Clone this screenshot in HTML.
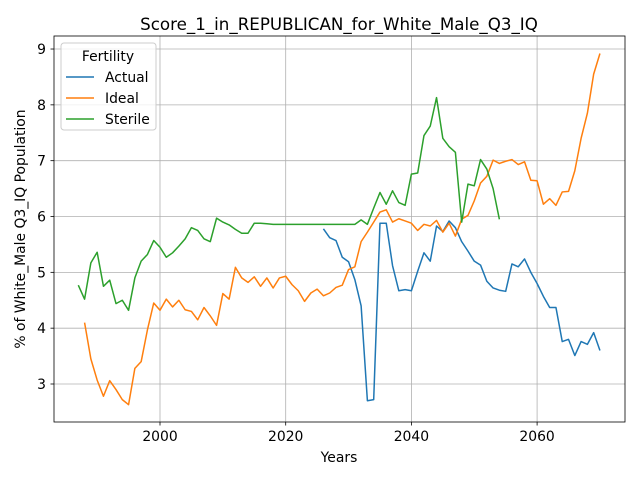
<!DOCTYPE html>
<html><head><meta charset="utf-8"><style>
body{margin:0;background:#fff;}
svg{display:block;font-family:"DejaVu Sans","Liberation Sans",sans-serif;}
</style></head><body>
<svg id="chart" width="640" height="480" viewBox="0 0 640 480">
<rect x="0" y="0" width="640" height="480" fill="#fff"/>
<text x="339" y="30" font-size="16.7" text-anchor="middle">Score_1_in_REPUBLICAN_for_White_Male_Q3_IQ</text>
<g id="grid"></g>
<g id="series"></g>
<rect x="54" y="36" width="571" height="386" fill="none" stroke="#000" stroke-width="0.8"/>
<g id="ticks"></g>
<text x="339" y="462" font-size="13.9" text-anchor="middle">Years</text>
<text transform="translate(25,229) rotate(-90)" font-size="13.9" text-anchor="middle">% of White_Male Q3_IQ Population</text>
<g>
<rect x="61" y="43" width="95" height="87" rx="3" fill="#fff" fill-opacity="0.8" stroke="#ccc"/>
<text x="108" y="61" font-size="13.9" text-anchor="middle">Fertility</text>
<line x1="66" y1="77" x2="94" y2="77" stroke="#1f77b4" stroke-width="1.5"/>
<text x="105" y="82" font-size="13.9">Actual</text>
<line x1="66" y1="98" x2="94" y2="98" stroke="#ff7f0e" stroke-width="1.5"/>
<text x="105" y="103" font-size="13.9">Ideal</text>
<line x1="66" y1="119" x2="94" y2="119" stroke="#2ca02c" stroke-width="1.5"/>
<text x="105" y="124" font-size="13.9">Sterile</text>
</g>
</svg>
<script>
const xTicks=[2000,2020,2040,2060];
const yTicks=[3,4,5,6,7,8,9];
const actualStart=2026;
const actualValues=[5.78,5.62,5.57,5.27,5.19,4.87,4.4,2.7,2.72,5.88,5.88,5.12,4.67,4.69,4.67,5.02,5.35,5.2,5.83,5.73,5.92,5.8,5.55,5.38,5.2,5.13,4.84,4.72,4.68,4.66,5.15,5.1,5.24,5.0,4.8,4.57,4.37,4.37,3.76,3.8,3.51,3.76,3.71,3.92,3.6];
const idealStart=1988;
const idealValues=[4.1,3.45,3.07,2.78,3.06,2.9,2.72,2.63,3.28,3.4,3.97,4.45,4.32,4.52,4.38,4.5,4.33,4.3,4.15,4.37,4.22,4.05,4.62,4.52,5.09,4.9,4.82,4.92,4.75,4.9,4.72,4.9,4.93,4.78,4.67,4.48,4.63,4.7,4.58,4.63,4.73,4.77,5.05,5.1,5.55,5.72,5.9,6.08,6.12,5.9,5.96,5.92,5.88,5.75,5.86,5.83,5.93,5.72,5.88,5.65,5.95,6.02,6.28,6.6,6.72,7.01,6.95,6.99,7.02,6.93,6.98,6.65,6.64,6.22,6.32,6.2,6.44,6.45,6.82,7.4,7.85,8.55,8.92];
const sterileStart=1987;
const sterileValues=[4.77,4.52,5.17,5.36,4.75,4.86,4.44,4.5,4.32,4.9,5.2,5.32,5.57,5.45,5.27,5.35,5.47,5.6,5.8,5.75,5.6,5.55,5.97,5.9,5.85,5.77,5.7,5.7,5.88,5.88,5.87,5.86,5.86,5.86,5.86,5.86,5.86,5.86,5.86,5.86,5.86,5.86,5.86,5.86,5.86,5.94,5.86,6.15,6.43,6.22,6.46,6.25,6.2,6.76,6.78,7.45,7.62,8.13,7.4,7.25,7.15,5.9,6.58,6.55,7.02,6.85,6.5,5.95];
const NS="http://www.w3.org/2000/svg";
function xs(yr){return 160+(yr-2000)*6.285;}
function ys(v){return 384-(v-3)*55.83;}
const grid=document.getElementById('grid'),ticks=document.getElementById('ticks'),ser=document.getElementById('series');
function mk(tag,attrs,parent){const e=document.createElementNS(NS,tag);for(const k in attrs)e.setAttribute(k,attrs[k]);parent.appendChild(e);return e;}
xTicks.forEach(t=>{const x=xs(t);
 const g=mk('line',{x1:x,x2:x,y1:36,y2:422,stroke:'#b0b0b0','stroke-width':0.8},grid);
 
 
 const tk=mk('line',{x1:x,x2:x,y1:422,y2:425.5,stroke:'#000','stroke-width':0.8},ticks);
 
 
 const tx=mk('text',{x:x,y:441,'font-size':13.9,'text-anchor':'middle'},ticks);tx.textContent=t;
 
 
});
yTicks.forEach(t=>{const y=ys(t);
 const g=mk('line',{x1:54,x2:625,y1:y,y2:y,stroke:'#b0b0b0','stroke-width':0.8},grid);
 
 
 const tk=mk('line',{x1:50.5,x2:54,y1:y,y2:y,stroke:'#000','stroke-width':0.8},ticks);
 
 
 const tx=mk('text',{x:46,y:y+5,'font-size':13.9,'text-anchor':'end'},ticks);tx.textContent=t;
 
 
});
function line(start,vals,color,name){
 const pts=vals.map((v,i)=>xs(start+i).toFixed(2)+','+ys(v).toFixed(2)).join(' ');
 const p=mk('polyline',{points:pts,fill:'none',stroke:color,'stroke-width':1.5,'stroke-linejoin':'round'},ser);
 
 
}
line(actualStart,actualValues,'#1f77b4','actual-line');
line(idealStart,idealValues,'#ff7f0e','ideal-line');
line(sterileStart,sterileValues,'#2ca02c','sterile-line');
</script>
</body></html>
